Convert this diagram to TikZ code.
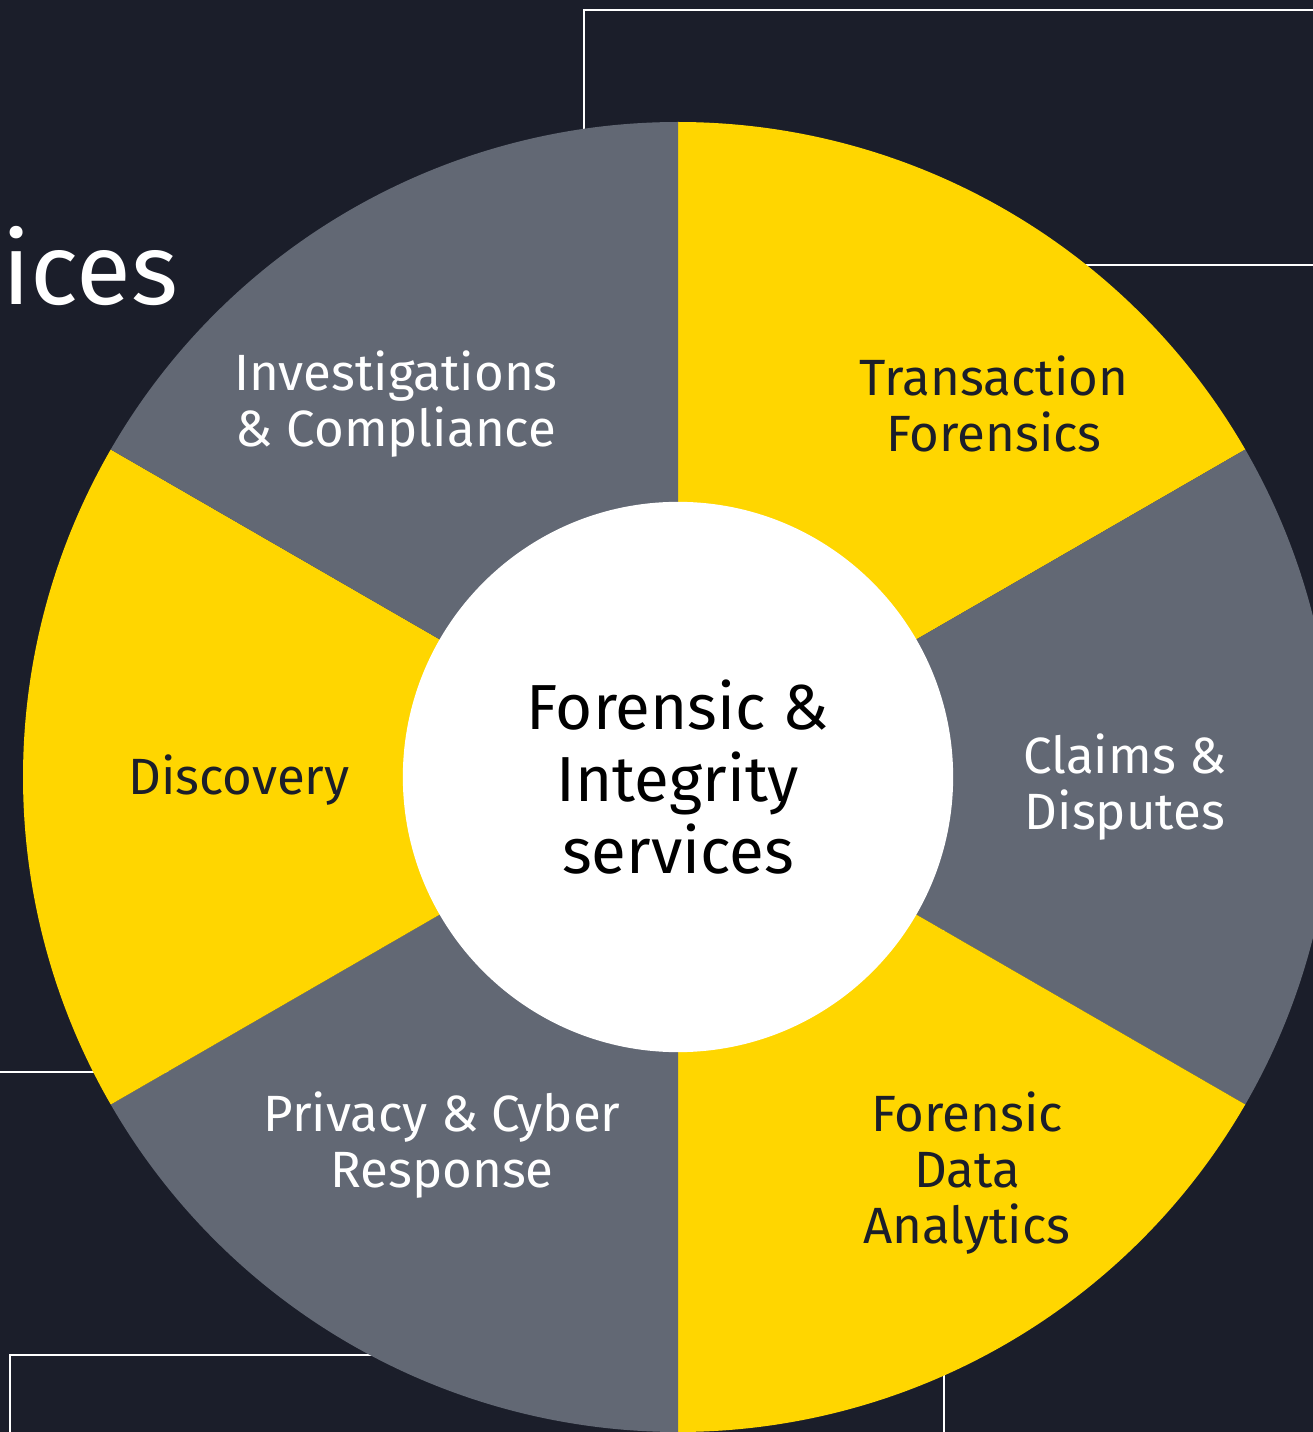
\documentclass[tikz,border=0pt]{standalone}
\usepackage{fontspec}
\setmainfont{Fira Sans}
\usetikzlibrary{calc}
\definecolor{navy}{RGB}{27,30,42}
\definecolor{eyyellow}{RGB}{255,214,0}
\definecolor{slate}{RGB}{98,104,116}

\begin{document}
\begin{tikzpicture}[x=0.01cm, y=0.01cm,
                    frame/.style ={draw=white, line width=0.6pt},
                    label/.style ={align=center, inner sep=0, font=\fontsize{14.5}{16}\selectfont},
                    ondark/.style={label, text=white},
                    onsun/.style ={label, text=navy},
                    hub/.style   ={circle, fill=white, minimum size=5.5cm, inner sep=0, align=center,
                                   font=\fontsize{18.1}{20.6}\selectfont}]

      \useasboundingbox (0,0) rectangle (1313,1432);
      \clip (0,0) rectangle (1313,1432);
      \fill[navy] (0,0) rectangle (1313,1432);
      \coordinate (c) at (678,655);

      \draw[frame] (584,655) |- (1313,1422);
      \draw[frame] (c |- 0,1167) -- (1313,1167);
      \draw[frame] (0,360) -- (c |- 0,360);
      \draw[frame] (c |- 0,77) -| (10,0);
      \draw[frame] (944,655) -- (944,0);

      \node[anchor=base west, inner sep=0, text=white, font=\fontsize{28.5}{28.5}\selectfont] (title) at (2,1127) {ices};

      \foreach \a/\col in {90/eyyellow, 30/slate, -30/eyyellow, -90/slate, -150/eyyellow, 150/slate}
        \fill[\col] (c) -- ++(\a:655) arc[start angle=\a, delta angle=-60, radius=655] -- cycle;

      \node[hub]    at (c)                  (hub)    {Forensic \&\\Integrity\\services};
      \node[onsun]  at ($(c)+(316,373)$)    (trans)  {Transaction\\Forensics};
      \node[ondark] at ($(c)+(447,-10)$)    (claims) {Claims \&\\Disputes};
      \node[onsun]  at ($(c)+(289,-396)$)   (fda)    {Forensic\\Data\\Analytics};
      \node[ondark] at ($(c)+(-236,-368)$)  (priv)   {Privacy \& Cyber\\Response};
      \node[onsun]  at ($(c)+(-439,-3)$)    (disc)   {Discovery};
      \node[ondark] at ($(c)+(-282,373)$)   (inv)    {Investigations\\\& Compliance};
    \end{tikzpicture}
\end{document}
